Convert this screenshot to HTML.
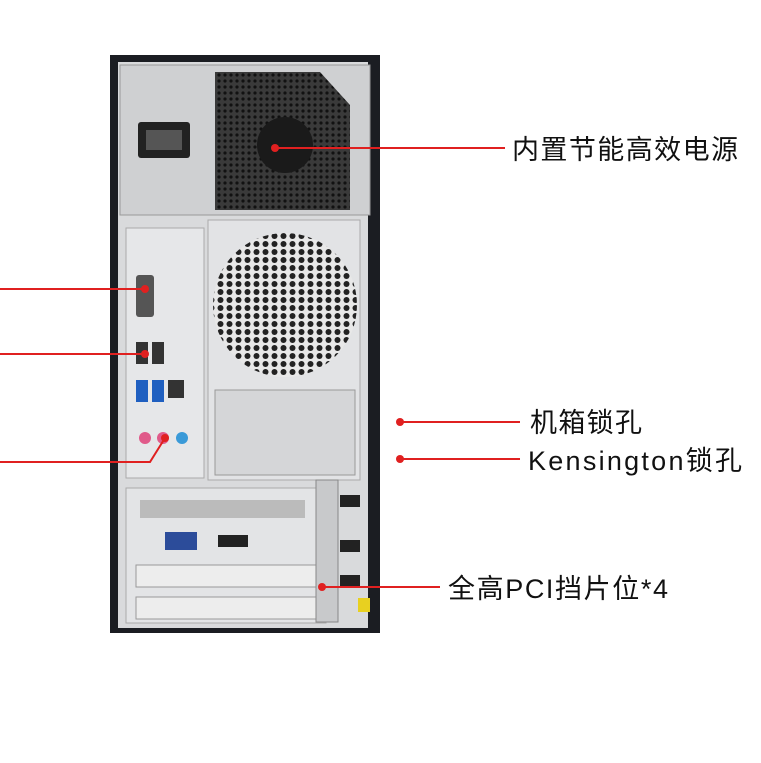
<!DOCTYPE html>
<html><head><meta charset="utf-8"><style>html,body{margin:0;padding:0;background:#fff;}svg{display:block}</style></head>
<body>
<svg width="761" height="763" viewBox="0 0 761 763" xmlns="http://www.w3.org/2000/svg">
<defs>
<pattern id="hex" width="9" height="8" patternUnits="userSpaceOnUse">
<rect width="9" height="8" fill="#e8e8e8"/><circle cx="4.5" cy="4" r="3" fill="#222"/>
</pattern>
<pattern id="grill" width="6" height="6" patternUnits="userSpaceOnUse">
<rect width="6" height="6" fill="#3a3a3a"/><circle cx="3" cy="3" r="1.6" fill="#111"/>
</pattern>
</defs>
<rect width="761" height="763" fill="#fff"/>
<rect x="110" y="55" width="270" height="578" fill="#1b1d22"/>
<rect x="118" y="62" width="250" height="566" fill="#d9dadc"/>
<rect x="120" y="65" width="250" height="150" fill="#cfd0d2" stroke="#999"/>
<rect x="138" y="122" width="52" height="36" fill="#222" rx="3"/>
<rect x="146" y="130" width="36" height="20" fill="#555"/>
<polygon points="215,72 320,72 350,105 350,210 215,210" fill="url(#grill)"/>
<circle cx="285" cy="145" r="28" fill="#1a1a1a"/>
<rect x="208" y="220" width="152" height="260" fill="#e2e3e5" stroke="#aaa"/>
<circle cx="285" cy="305" r="72" fill="url(#hex)"/>
<rect x="215" y="390" width="140" height="85" fill="#d5d6d8" stroke="#999"/>
<rect x="126" y="228" width="78" height="250" fill="#e6e7e9" stroke="#aaa"/>
<rect x="136" y="275" width="18" height="42" fill="#555" rx="3"/>
<rect x="136" y="342" width="12" height="22" fill="#333"/><rect x="152" y="342" width="12" height="22" fill="#333"/>
<rect x="136" y="380" width="12" height="22" fill="#1f5fc0"/><rect x="152" y="380" width="12" height="22" fill="#1f5fc0"/>
<rect x="168" y="380" width="16" height="18" fill="#333"/>
<circle cx="145" cy="438" r="6" fill="#e05a8a"/><circle cx="163" cy="438" r="6" fill="#e05a8a"/><circle cx="182" cy="438" r="6" fill="#3a9ad8"/>
<rect x="126" y="488" width="200" height="135" fill="#e3e4e6" stroke="#aaa"/>
<rect x="140" y="500" width="165" height="18" fill="#bbb"/>
<rect x="165" y="532" width="32" height="18" fill="#2c4c9a"/>
<rect x="218" y="535" width="30" height="12" fill="#222"/>
<rect x="136" y="565" width="180" height="22" fill="#ededed" stroke="#999"/>
<rect x="136" y="597" width="180" height="22" fill="#ededed" stroke="#999"/>
<rect x="316" y="480" width="22" height="142" fill="#c8c9cb" stroke="#888"/>
<rect x="340" y="495" width="20" height="12" fill="#222"/><rect x="340" y="540" width="20" height="12" fill="#222"/><rect x="340" y="575" width="20" height="12" fill="#222"/>
<rect x="358" y="598" width="12" height="14" fill="#e8d020"/>
<g stroke="#e02020" stroke-width="2" fill="none">
<line x1="275" y1="148" x2="505" y2="148"/>
<line x1="0" y1="289" x2="145" y2="289"/>
<line x1="0" y1="354" x2="145" y2="354"/>
<polyline points="0,462 150,462 165,438"/>
<line x1="400" y1="422" x2="520" y2="422"/>
<line x1="400" y1="459" x2="520" y2="459"/>
<line x1="322" y1="587" x2="440" y2="587"/>
</g>
<g fill="#e02020">
<circle cx="275" cy="148" r="4"/><circle cx="145" cy="289" r="4"/><circle cx="145" cy="354" r="4"/><circle cx="165" cy="438" r="4"/>
<circle cx="400" cy="422" r="4"/><circle cx="400" cy="459" r="4"/><circle cx="322" cy="587" r="4"/>
</g>
<g font-family="Liberation Sans, Noto Sans CJK SC, sans-serif" font-size="27" fill="#111">
<text x="512" y="159" textLength="226">内置节能高效电源</text>
<text x="530" y="432" textLength="112">机箱锁孔</text>
<text x="528" y="470" textLength="214">Kensington锁孔</text>
<text x="448" y="598" textLength="220">全高PCI挡片位*4</text>
</g>
</svg>
</body></html>
